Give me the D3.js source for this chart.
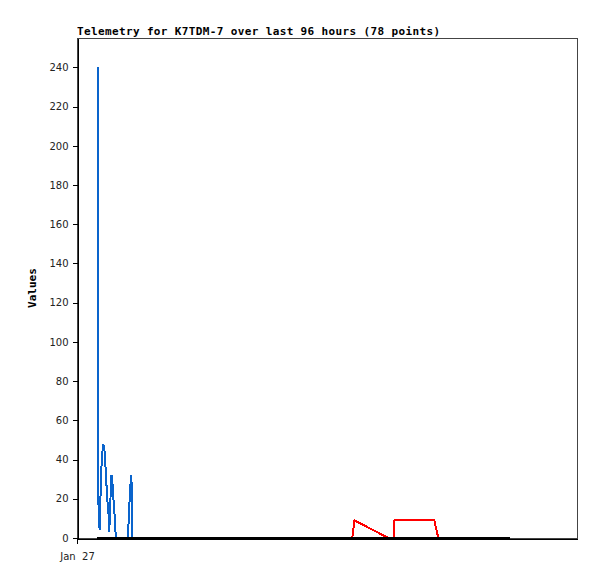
<!DOCTYPE html>
<html>
<head>
<meta charset="utf-8">
<script src="https://cdn.jsdelivr.net/npm/d3@7"></script>
<style>
  body { margin: 0; background: #fff; }
</style>
</head>
<body>
<div id="chart"></div>
<script>
// chart size
const width = 597;
const height = 579;
const margin = {top: 38, right: 20, bottom: 41, left: 77};

// data: hours since Jan 27 00:00, value
const blueHours = [4.14, 4.15, 4.30, 4.52, 4.66, 4.80, 5.00, 5.26, 5.46, 5.64, 5.84, 6.04, 6.26,
  6.46, 6.64, 6.90, 7.12, 7.34, 7.54, 7.76, 10.10, 10.26, 10.48, 10.68, 10.88, 11.08];
const blueValues = [240, 136, 17, 4, 17, 31, 42, 48, 46, 39, 30, 20, 15,
  3, 17, 32, 27, 18, 11, 0, 0, 5, 17, 27, 32, 0];

const redHours = [55.06, 55.5, 62.26, 63.3, 63.5, 71.46, 72.26];
const redValues = [0, 9, 0, 0, 9, 9, 0];

const blackHours = [4.0, 20, 40, 60, 86.6];
const blackValues = [0, 0, 0, 0, 0];

const yTicks = [0, 20, 40, 60, 80, 100, 120, 140, 160, 180, 200, 220, 240];
const xTickHours = [0];
const xTickLabels = ["Jan  27"];

const titleText = "Telemetry for K7TDM-7 over last 96 hours (78 points)";

const svg = d3.select("#chart")
  .append("svg")
  .attr("width", width)
  .attr("height", height);

// scales
const x = d3.scaleLinear()
  .domain([0, 100])
  .range([margin.left, width - margin.right]);

const y = d3.scaleLinear()
  .domain([0, 255])
  .range([height - margin.bottom, margin.top]);

// plot frame
svg.append("rect")
  .attr("x", margin.left + 0.5)
  .attr("y", margin.top + 0.5)
  .attr("width", width - margin.left - margin.right)
  .attr("height", height - margin.top - margin.bottom)
  .attr("fill", "none")
  .attr("stroke", "#444")
  .attr("stroke-width", 1)
  .attr("shape-rendering", "crispEdges");

//y axis
const yAxis = svg.append("g")
  .attr("transform", `translate(${margin.left + 0.5},0)`)
  .call(d3.axisLeft(y).tickValues(yTicks).tickSize(5).tickSizeOuter(0).tickPadding(4));
yAxis.select(".domain").attr("stroke", "#000");
yAxis.selectAll("line").attr("stroke", "#000");
yAxis.selectAll("text")
  .attr("font-family", "DejaVu Sans")
  .attr("font-size", "10px")
  .attr("fill", "#222");

//x axis
const xAxis = svg.append("g")
  .attr("transform", `translate(0,${height - margin.bottom + 0.5})`)
  .call(d3.axisBottom(x).tickValues(xTickHours)
    .tickFormat((d, i) => xTickLabels[i]).tickSize(5).tickSizeOuter(0).tickPadding(9));
xAxis.select(".domain").attr("stroke", "#000");
xAxis.selectAll("line").attr("stroke", "#000");
xAxis.selectAll("text")
  .attr("font-family", "DejaVu Sans")
  .attr("font-size", "10px")
  .attr("fill", "#222")
  .style("white-space", "pre");

svg.selectAll(".domain, .tick line").attr("shape-rendering", "crispEdges");

// lines
const line = d3.line()
  .x(d => x(d[0]))
  .y(d => y(d[1]));

const series = [
  {hours: blueHours, values: blueValues, color: "#0a64cc"},
  {hours: redHours, values: redValues, color: "#ff0000"},
  {hours: blackHours, values: blackValues, color: "#000000"}
];

svg.selectAll(".series")
  .data(series)
  .enter()
  .append("path")
  .attr("class", "series")
  .attr("d", s => line(s.hours.map((h, i) => [h, s.values[i]])))
  .attr("fill", "none")
  .attr("stroke", s => s.color)
  .attr("stroke-width", 2)
  .attr("shape-rendering", "crispEdges");

// title
svg.append("text")
  .attr("x", margin.left)
  .attr("y", 35)
  .attr("font-family", "DejaVu Sans Mono")
  .attr("font-weight", "bold")
  .attr("font-size", "11px")
  .attr("textLength", 363)
  .attr("lengthAdjust", "spacing")
  .text(titleText);

// y label
svg.append("text")
  .attr("transform", `translate(36,${(margin.top + height - margin.bottom) / 2}) rotate(-90)`)
  .attr("text-anchor", "middle")
  .attr("font-family", "DejaVu Sans Mono")
  .attr("font-weight", "bold")
  .attr("font-size", "11px")
  .text("Values");
</script>
</body>
</html>
